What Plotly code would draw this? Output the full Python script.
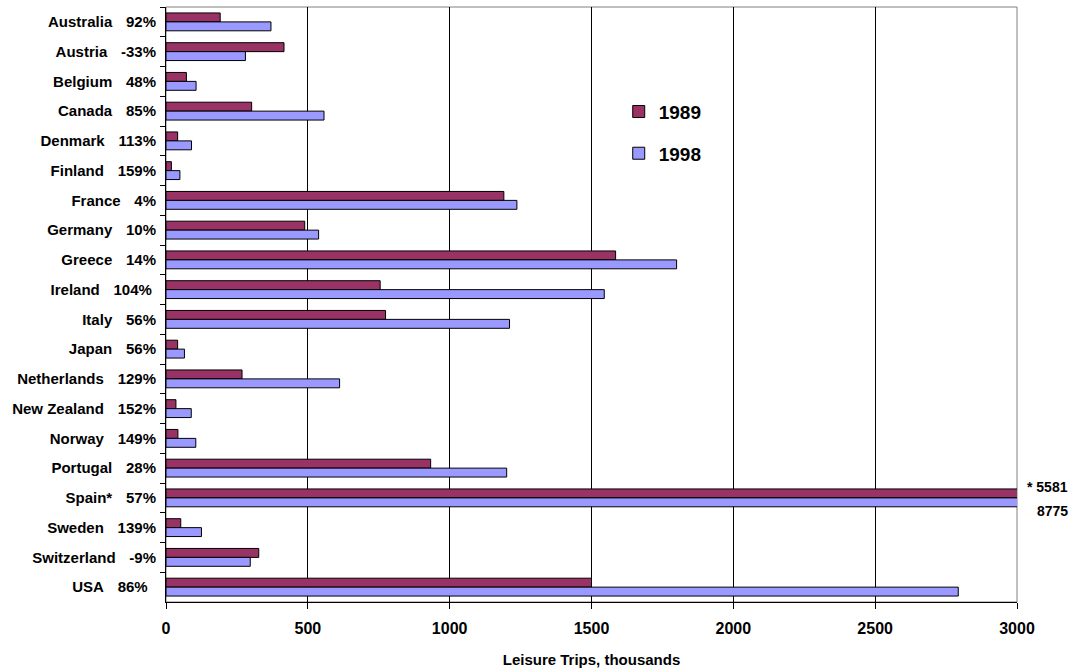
import plotly.graph_objects as go

countries = ["Australia", "Austria", "Belgium", "Canada", "Denmark", "Finland",
             "France", "Germany", "Greece", "Ireland", "Italy", "Japan",
             "Netherlands", "New Zealand", "Norway", "Portugal", "Spain*",
             "Sweden", "Switzerland", "USA"]
pct_change = ["92%", "-33%", "48%", "85%", "113%", "159%", "4%", "10%", "14%",
              "104%", "56%", "56%", "129%", "152%", "149%", "28%", "57%",
              "139%", "-9%", "86%"]
trips_1989 = [191, 416, 72, 302, 41, 19, 1191, 489, 1585, 755, 774, 41, 268,
              35, 42, 933, 5581, 52, 327, 1500]
trips_1998 = [370, 280, 106, 557, 90, 49, 1237, 538, 1800, 1545, 1211, 65, 612,
              89, 105, 1201, 8775, 125, 297, 2793]
x_ticks = [0, 500, 1000, 1500, 2000, 2500, 3000]
clipped_country = "Spain*"

NB = "\u00a0"
trail = {"Ireland": 1, "USA": 2}
labels = [f"{c}{NB*3}\u200a{p}{NB*trail.get(c, 0)}" for c, p in zip(countries, pct_change)]

fig = go.Figure()
fig.add_trace(go.Bar(y=labels, x=trips_1989, name="1989", orientation="h",
                     marker=dict(color="#993366", line=dict(color="black", width=1)),
                     legendgroup="a"))
fig.add_trace(go.Bar(y=labels, x=trips_1998, name="1998", orientation="h",
                     marker=dict(color="#9999FF", line=dict(color="black", width=1)),
                     legendgroup="b"))

ci = countries.index(clipped_country)
font_b = "Liberation Sans, Arial, sans-serif"
fig.add_annotation(x=1.0625, xref="paper", y=labels[ci], yref="y", yshift=11,
                   text=f"<b>* {trips_1989[ci]}</b>", showarrow=False, xanchor="right",
                   font=dict(family=font_b, size=14, color="black"))
fig.add_annotation(x=1.0625, xref="paper", y=labels[ci], yref="y", yshift=-13,
                   text=f"<b>{trips_1998[ci]}</b>", showarrow=False, xanchor="right",
                   font=dict(family=font_b, size=14, color="black"))

fig.add_shape(type="rect", xref="paper", yref="paper", x0=0, x1=1, y0=0, y1=1,
              line=dict(color="#808080", width=1), layer="below")

fig.update_layout(
    width=1073, height=671,
    margin=dict(l=166, r=56, t=7, b=69),
    paper_bgcolor="white", plot_bgcolor="white",
    barmode="group", bargap=0.4, bargroupgap=0,
    font=dict(family=font_b, color="black"),
    showlegend=True,
    legend=dict(x=0.532, y=0.856, xanchor="left", yanchor="top",
                font=dict(family=font_b, size=19, color="black", weight="bold"),
                traceorder="grouped", tracegroupgap=14, bgcolor="rgba(255,255,255,0)",
                itemwidth=30),
    xaxis=dict(range=[0, 3000], tickvals=x_ticks, ticktext=[str(v) for v in x_ticks],
               showgrid=True, gridcolor="black", gridwidth=1,
               showline=True, linecolor="black", linewidth=1,
               ticks="outside", ticklen=6, tickcolor="black", ticklabelstandoff=6,
               tickfont=dict(family=font_b, size=16, color="black", weight="bold"),
               title=dict(text="<b>Leisure Trips, thousands</b>",
                          font=dict(family=font_b, size=15, color="black"), standoff=18),
               zeroline=False, automargin=False),
    yaxis=dict(autorange="reversed", type="category",
               showline=True, linecolor="black", linewidth=1,
               ticks="outside", ticklen=5, tickcolor="black", tickson="boundaries",
               ticklabelstandoff=6,
               tickfont=dict(family=font_b, size=15, color="black", weight="bold"),
               showgrid=False, automargin=False),
)

fig.write_html("out.html", config={"displayModeBar": False},
               post_script="document.body.style.margin='0px';document.body.style.overflow='hidden';")
